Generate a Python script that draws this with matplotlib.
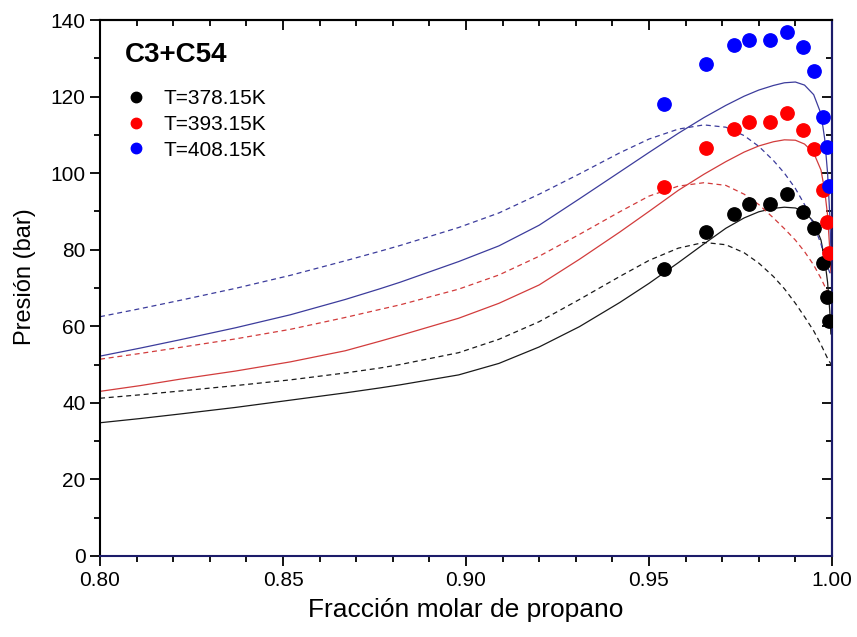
import matplotlib
matplotlib.use("Agg")
import matplotlib.pyplot as plt
from matplotlib.lines import Line2D

plt.rcParams['font.family'] = ['Liberation Sans', 'DejaVu Sans']

# Experimental points (propane mole fraction, pressure in bar)
x_exp = [0.9542, 0.9656, 0.9731, 0.9773, 0.9831, 0.9877, 0.9922, 0.9950, 0.9975, 0.9986, 0.9993]
p_378 = [74.9, 84.5, 89.3, 91.9, 91.9, 94.5, 89.8, 85.7, 76.6, 67.6, 61.5]
p_393 = [96.4, 106.6, 111.5, 113.3, 113.4, 115.6, 111.3, 106.4, 95.5, 87.3, 79.1]
p_408 = [118.0, 128.4, 133.5, 134.7, 134.9, 136.9, 132.9, 126.8, 114.7, 106.7, 96.6]

# Model curves (solid and dashed) at each temperature
x_model = [0.800, 0.811, 0.822, 0.837, 0.852, 0.867, 0.8765, 0.882, 0.898, 0.909,
           0.920, 0.931, 0.942, 0.950, 0.958, 0.965, 0.971, 0.976, 0.980, 0.984,
           0.987, 0.990, 0.9925, 0.995, 0.997, 0.998, 0.9988, 0.9994, 0.9997]
solid_378 = [34.8, 35.9, 37.1, 38.8, 40.7, 42.6, 43.9, 44.7, 47.3, 50.3,
             54.6, 59.9, 66.2, 71.2, 76.6, 81.5, 85.6, 88.3, 89.9, 90.8,
             91.1, 90.9, 89.9, 87.3, 82.5, 77.5, 71.5, 64.0, 58.0]
dash_378 = [41.2, 42.1, 43.1, 44.5, 46.0, 47.8, 49.1, 50.0, 53.1, 56.6,
            61.2, 67.0, 73.0, 77.2, 80.4, 81.9, 81.3, 79.2, 76.5, 73.0,
            69.8, 66.0, 62.5, 58.8, 55.2, 53.2, 51.6, 50.6, 50.2]
solid_393 = [43.0, 44.5, 46.2, 48.3, 50.7, 53.6, 56.1, 57.6, 62.1, 66.0,
             70.8, 77.5, 84.6, 90.0, 95.5, 99.7, 103.0, 105.5, 107.1, 108.2,
             108.7, 108.6, 107.6, 105.3, 100.8, 95.5, 89.0, 80.0, 74.0]
dash_393 = [51.4, 52.9, 54.5, 56.7, 59.2, 62.3, 64.4, 65.6, 69.7, 73.4,
            78.3, 84.0, 89.9, 94.0, 96.6, 97.5, 96.8, 94.5, 91.8, 88.3,
            85.5, 82.5, 79.5, 76.0, 72.5, 70.5, 69.0, 68.0, 67.5]
solid_408 = [52.2, 54.3, 56.5, 59.6, 63.0, 67.0, 69.8, 71.5, 76.9, 81.0,
             86.4, 93.3, 100.3, 105.4, 110.4, 114.5, 117.7, 120.1, 121.7, 122.9,
             123.6, 123.8, 123.0, 120.5, 115.5, 109.0, 100.0, 89.0, 80.0]
dash_408 = [62.5, 64.6, 66.8, 69.9, 73.3, 77.1, 79.6, 81.1, 85.8, 89.6,
            94.5, 99.8, 105.3, 108.9, 111.5, 112.6, 112.0, 109.8, 107.0, 103.3,
            100.0, 96.0, 91.8, 86.5, 81.5, 78.0, 75.5, 74.0, 73.0]

labels = ["T=378.15K", "T=393.15K", "T=408.15K"]
marker_colors = ["#000000", "#ff0000", "#0000ff"]
line_colors = ["#1a1a1a", "#d23c3c", "#3c3c9c"]

x_major = [0.80, 0.85, 0.90, 0.95, 1.00]
x_major_labels = ["0.80", "0.85", "0.90", "0.95", "1.00"]
x_minor = [0.80 + 0.01 * i for i in range(21)]
y_major = list(range(0, 141, 20))
y_minor = list(range(0, 141, 10))

fig = plt.figure(figsize=(8.57, 6.37), dpi=100)
ax = fig.add_axes([0.1167, 0.1272, 0.8541, 0.8414])

solids = [solid_378, solid_393, solid_408]
dashes = [dash_378, dash_393, dash_408]
points = [p_378, p_393, p_408]

for s, d, lc in zip(solids, dashes, line_colors):
    ax.plot(x_model, s, color=lc, lw=0.9, zorder=2)
    ax.plot(x_model, d, color=lc, lw=0.9, ls=(0, (4, 3)), zorder=2)

for p, mc in zip(points, marker_colors):
    ax.plot(x_exp, p, 'o', color=mc, ms=9.6, mec=mc, zorder=3)

ax.set_xlim(0.80, 1.00)
ax.set_ylim(0, 140)
ax.set_xticks(x_major)
ax.set_xticklabels(x_major_labels)
ax.set_xticks(x_minor, minor=True)
ax.set_yticks(y_major)
ax.set_yticks(y_minor, minor=True)

ax.tick_params(axis='both', which='major', length=7, width=1.3, labelsize=15,
               direction='out', top=False, right=False)
ax.tick_params(axis='both', which='minor', length=4, width=1.3,
               direction='out', top=False, right=False)

# inward ticks on the top and right frame
sec_x = ax.secondary_xaxis('top')
sec_x.set_xticks(x_major)
sec_x.set_xticks(x_minor, minor=True)
sec_x.xaxis.set_ticklabels([])
sec_x.tick_params(which='major', direction='in', length=7, width=1.3)
sec_x.tick_params(which='minor', direction='in', length=4, width=1.3)
sec_x.spines['top'].set_linewidth(1.5)

sec_y = ax.secondary_yaxis('right')
sec_y.set_yticks(y_major)
sec_y.set_yticks(y_minor, minor=True)
sec_y.yaxis.set_ticklabels([])
sec_y.tick_params(which='major', direction='in', length=7, width=1.3)
sec_y.tick_params(which='minor', direction='in', length=4, width=1.3)
sec_y.spines['right'].set_linewidth(1.5)
sec_y.spines['right'].set_color('#1c1c6a')

for side in ax.spines:
    ax.spines[side].set_linewidth(1.5)
ax.spines['bottom'].set_color('#1c1c6a')
ax.spines['right'].set_color('#1c1c6a')

ax.set_xlabel("Fracción molar de propano", fontsize=19, labelpad=6)
ax.set_ylabel("Presión (bar)", fontsize=17)
ax.yaxis.set_label_coords(-0.088, 0.522)

ax.text(0.034, 0.935, "C3+C54", transform=ax.transAxes, fontsize=20,
        fontweight='bold', va='center', ha='left')

handles = [Line2D([], [], ls='none', marker='o', ms=7.5, color=c, mec=c) for c in marker_colors]
ax.legend(handles, labels, loc='upper left', bbox_to_anchor=(0.021, 0.886),
          frameon=False, fontsize=15, handletextpad=0.7, labelspacing=0.32,
          borderaxespad=0, handlelength=1.2)

fig.savefig("out.png", dpi=100)
